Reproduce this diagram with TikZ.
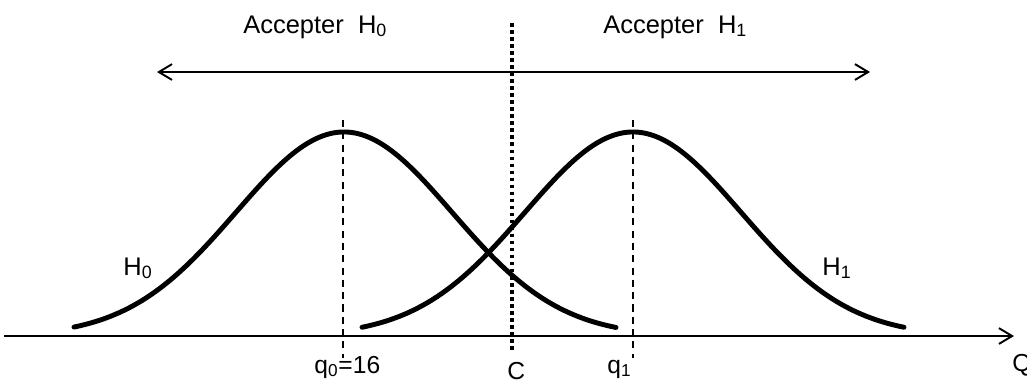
\documentclass[tikz,border=0pt]{standalone}
\usepackage{fontspec}
\setmainfont{Liberation Sans}
\usetikzlibrary{arrows.meta}

\tikzset{
  bell/.style={line width=2.8pt, line cap=round},
  meanline/.style={line width=0.8pt, dash pattern=on 4pt off 3pt},
  seuil/.style={line width=2pt, dash pattern=on 2pt off 2pt},
  zone/.style={font=\fontsize{14.5}{16}\selectfont, anchor=base west, inner sep=0pt},
  tick/.style={font=\fontsize{14}{16}\selectfont, anchor=base west, inner sep=0pt},
}

\begin{document}
\begin{tikzpicture}[x=0.02cm, y=-0.02cm, >={Straight Barb[length=7.5pt,width=9pt]}]
  \useasboundingbox (0,0) rectangle (1027,383);

  % axe horizontal
  \coordinate (o) at (4,336);
  \coordinate (q) at (1014,336);
  \draw[->, line width=1.1pt] (o) -- (q);
  \node[tick] (Q) at (1012,371) {Q};

  % zones d'acceptation
  \coordinate (gauche) at (157,72);
  \coordinate (droite) at (870,72);
  \draw[<->, line width=1.1pt] (gauche) -- (droite);
  \node[zone] (acc0) at (243,33) {Accepter\ \ H\textsubscript{0}};
  \node[zone] (acc1) at (603,33) {Accepter\ \ H\textsubscript{1}};

  % seuil C
  \coordinate (ctop) at (512,23);
  \coordinate (cbot) at (512,353);
  \draw[seuil] (ctop) -- (cbot);
  \node[tick] (C) at (507,379) {C};

  % moyennes
  \coordinate (m0top) at (343,120);
  \coordinate (m0bot) at (343,358);
  \coordinate (m1top) at (633,120);
  \coordinate (m1bot) at (633,358);
  \draw[meanline] (m0top) -- (m0bot);
  \draw[meanline] (m1top) -- (m1bot);
  \node[tick] (q0) at (314,373) {q\textsubscript{0}=16};
  \node[tick] (q1) at (607,373) {q\textsubscript{1}};

  % courbes
  \draw[bell] plot[domain=74:616, samples=120, smooth]
    (\x, {336-204*exp(-0.5*((\x-344)/108)*((\x-344)/108))});
  \draw[bell] plot[domain=362:904, samples=120, smooth]
    (\x, {336-204*exp(-0.5*((\x-633)/108)*((\x-633)/108))});
  \node[zone] (h0) at (123,275) {H\textsubscript{0}};
  \node[zone] (h1) at (822,275) {H\textsubscript{1}};
\end{tikzpicture}
\end{document}
